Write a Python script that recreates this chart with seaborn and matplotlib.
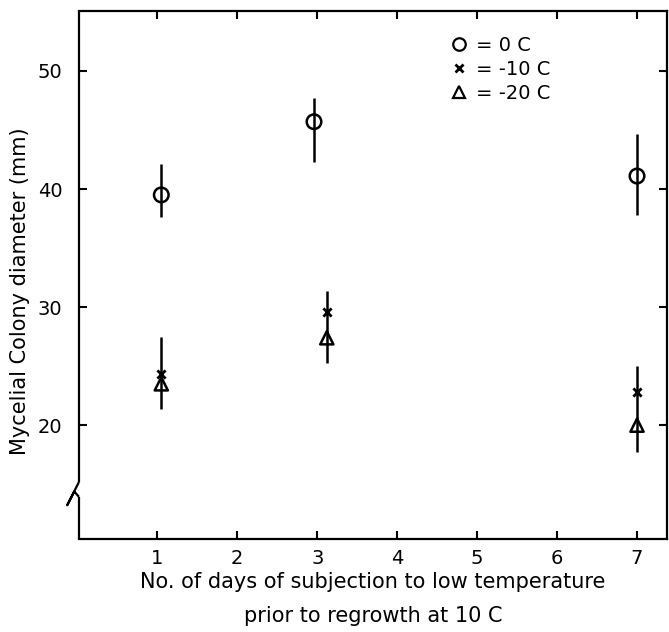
import numpy as np
import pandas as pd
import matplotlib.pyplot as plt
import seaborn as sns
from matplotlib.lines import Line2D

# values (x slightly off-centre as drawn)
days_0c = [1.05, 2.96, 7.0]
diam_0c = [39.5, 45.7, 41.1]
lo_0c = [37.6, 42.3, 37.8]
hi_0c = [42.1, 47.7, 44.7]

days_cold = [1.05, 3.12, 7.0]
diam_m10 = [24.3, 29.6, 22.8]
diam_m20 = [23.5, 27.4, 20.0]
lo_cold = [21.4, 25.3, 17.7]
hi_cold = [27.5, 31.4, 25.0]

temps = ['0 C', '-10 C', '-20 C']
xticks = [1, 2, 3, 4, 5, 6, 7]
yticks = [20, 30, 40, 50]

sns.set_style('ticks', {'text.color': 'black', 'axes.labelcolor': 'black',
                        'xtick.color': 'black', 'ytick.color': 'black'})
plt.rcParams['font.family'] = ['DejaVu Sans']

fig = plt.figure(figsize=(6.69, 6.32), dpi=100)
ax = fig.add_axes([0.118, 0.147, 0.879, 0.836])

# error bars
y0 = np.array(diam_0c)
ax.errorbar(days_0c, y0, yerr=[y0 - np.array(lo_0c), np.array(hi_0c) - y0],
            fmt='none', ecolor='black', elinewidth=1.8, capsize=0, zorder=2)
y1 = np.array(diam_m10)
ax.errorbar(days_cold, y1, yerr=[y1 - np.array(lo_cold), np.array(hi_cold) - y1],
            fmt='none', ecolor='black', elinewidth=1.8, capsize=0, zorder=2)

# points
sns.scatterplot(x=days_0c, y=diam_0c, marker='o', s=110, color='black',
                facecolor='none', edgecolor='black', linewidth=1.8, ax=ax, zorder=3)
sns.scatterplot(x=days_cold, y=diam_m10, marker='x', s=35, color='black',
                linewidth=2.0, ax=ax, zorder=3)
sns.scatterplot(x=days_cold, y=diam_m20, marker='^', s=90, color='black',
                facecolor='none', edgecolor='black', linewidth=1.8, ax=ax, zorder=3)

ax.set_xlim(0.02, 7.375)
ax.set_ylim(10.35, 55.1)
ax.set_xticks(xticks)
ax.set_yticks(yticks)
ax.tick_params(direction='in', length=6, width=1.5, top=True, right=True,
               labelsize=14, colors='black')
ax.tick_params(axis='y', pad=12)
ax.tick_params(axis='x', pad=7)

for s in ['top', 'right', 'bottom']:
    ax.spines[s].set_linewidth(1.6)
    ax.spines[s].set_color('black')
ax.spines['left'].set_visible(False)

# left spine with axis break
kw = dict(transform=ax.transAxes, clip_on=False, color='black', lw=1.6,
          solid_capstyle='butt')
ax.plot([0, 0], [1, 0.108], **kw)
ax.plot([0, -0.020, -0.008, 0], [0.108, 0.064, 0.090, 0.080], **kw)
ax.plot([0, 0], [0.080, 0], **kw)

ax.set_xlabel('No. of days of subjection to low temperature\nprior to regrowth at 10 C',
              fontsize=15, linespacing=1.9, labelpad=3)
ax.set_ylabel('Mycelial Colony diameter (mm)', fontsize=15)
ax.yaxis.set_label_coords(-0.083, 0.47)

handles = [
    Line2D([], [], ls='none', marker='o', mfc='none', mec='black', mew=1.6, ms=9),
    Line2D([], [], ls='none', marker='x', color='black', mew=2.0, ms=6),
    Line2D([], [], ls='none', marker='^', mfc='none', mec='black', mew=1.6, ms=9),
]
ax.legend(handles, ['= ' + t for t in temps], loc='upper left',
          bbox_to_anchor=(0.6, 0.985), frameon=False, fontsize=14,
          handlelength=1.0, handletextpad=0.4, labelspacing=0.25)

fig.savefig('out.png', dpi=100)
